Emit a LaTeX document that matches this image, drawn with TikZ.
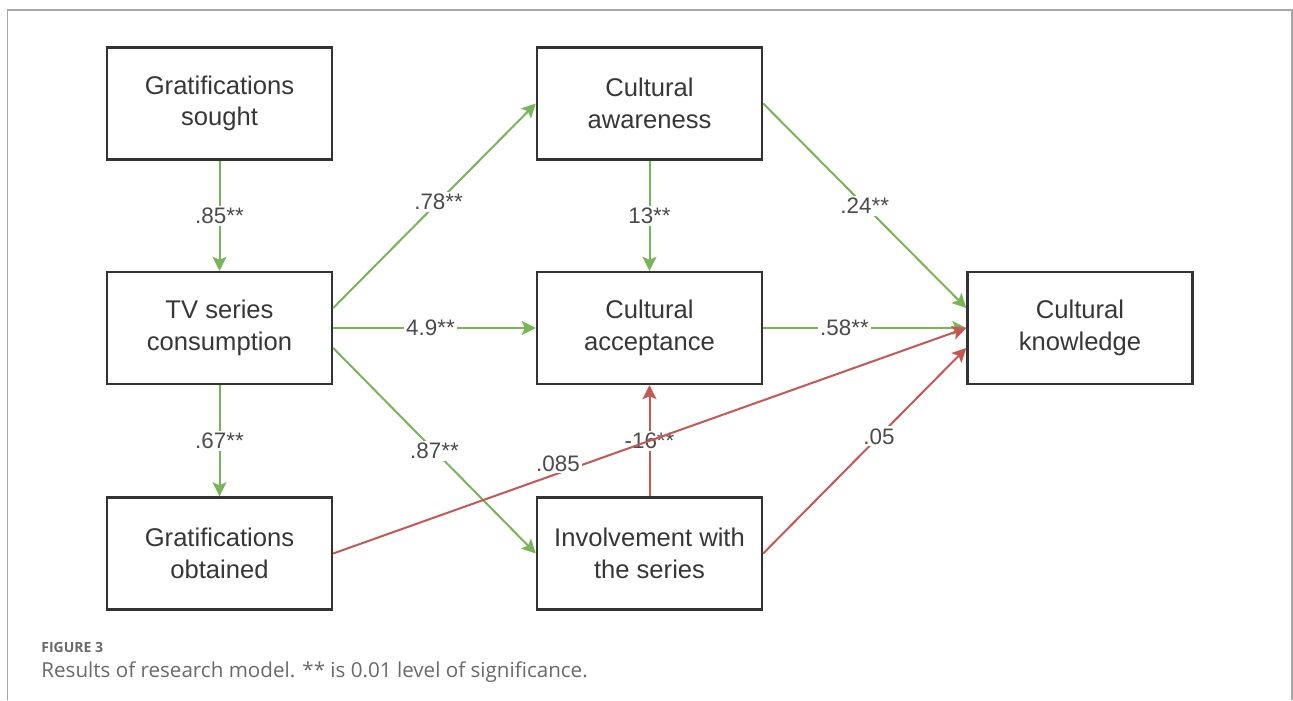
\documentclass[tikz,border=0pt]{standalone}
\usepackage{fontspec}
\setmainfont{Liberation Sans}
\newfontfamily\captionFont{Open Sans}
\usetikzlibrary{arrows.meta}
\definecolor{pathGreen}{RGB}{120,180,88}
\definecolor{pathRed}{RGB}{196,88,84}
\definecolor{boxText}{RGB}{55,55,55}
\definecolor{coefText}{RGB}{75,75,75}
\definecolor{captionGray}{RGB}{105,105,105}
\newcommand{\boxWidth}{112.5pt}
\newcommand{\boxHeight}{56pt}
\newcommand{\colGap}{430}
\newcommand{\sig}{**}

\begin{document}
\begin{tikzpicture}[x=0.5pt, y=-0.5pt,
    construct/.style={draw=black!80, line width=1.2pt, fill=white,
      minimum width=\boxWidth, minimum height=\boxHeight, inner sep=0pt,
      align=center, text=boxText, font=\fontsize{12.8}{15.8}\selectfont},
    pos path/.style={draw=pathGreen, line width=1pt,
      -{Stealth[length=7pt,width=7pt,inset=1.5pt]}},
    neg path/.style={draw=pathRed, line width=1pt,
      -{Stealth[length=7pt,width=7pt,inset=1.5pt]}},
    coef/.style={fill=white, text=coefText, inner sep=1pt,
      font=\fontsize{11.2}{13}\selectfont}]
   \useasboundingbox (0,0) rectangle (1293,700);
   \draw[gray!70, line width=0.75pt] (7.5,700) |- (1292,10) -- (1292,700);

   % constructs
   \node[construct] (sought)   at (219.5,103.5) {Gratifications\\sought};
   \node[construct] (consume)  at (219.5,328)   {TV series\\consumption};
   \node[construct] (obtained) at (219.5,553.5) {Gratifications\\obtained};
   \node[construct] (aware)    at (219.5+\colGap,103.5) {Cultural\\awareness};
   \node[construct] (accept)   at (219.5+\colGap,328)   {Cultural\\acceptance};
   \node[construct] (involve)  at (219.5+\colGap,553.5) {Involvement with\\the series};
   \node[construct] (know)     at (1080,328) {Cultural\\knowledge};

   % paths
   \draw[pos path] (sought) -- node[coef] {.85\sig} (consume);
   \draw[pos path] (consume) -- node[coef] {.67\sig} (obtained);
   \draw[pos path] ([yshift=10pt]consume.east) -- node[coef, pos=0.52] {.78\sig} (aware.west);
   \draw[pos path] (consume) -- node[coef, pos=0.48] {4.9\sig} (accept);
   \draw[pos path] ([yshift=-10pt]consume.east) -- node[coef] {.87\sig} (involve.west);
   \draw[pos path] (aware) -- node[coef] {13\sig} (accept);
   \draw[pos path] (aware.east) -- node[coef] {.24\sig} ([yshift=10pt]know.west);
   \draw[pos path] (accept) -- node[coef, pos=0.4] {.58\sig} (know);
   \draw[neg path] (involve) -- node[coef] {-16\sig} (accept);
   \draw[neg path] (obtained.east) -- node[coef, pos=0.355, yshift=5pt] {.085} (know.west);
   \draw[neg path] (involve.east) -- node[coef, pos=0.57] {.05} ([yshift=-10pt]know.west);

   % caption
   \node[anchor=base west, inner sep=0pt, text=captionGray, font=\captionFont\bfseries\fontsize{7}{8}\selectfont] (figNo) at (41,652) {FIGURE 3};
   \node[anchor=base west, inner sep=0pt, text=captionGray, font=\captionFont\fontsize{10.3}{12}\selectfont] (figCaption) at (41,677) {Results of research model. ** is 0.01 level of significance.};
\end{tikzpicture}
\end{document}
